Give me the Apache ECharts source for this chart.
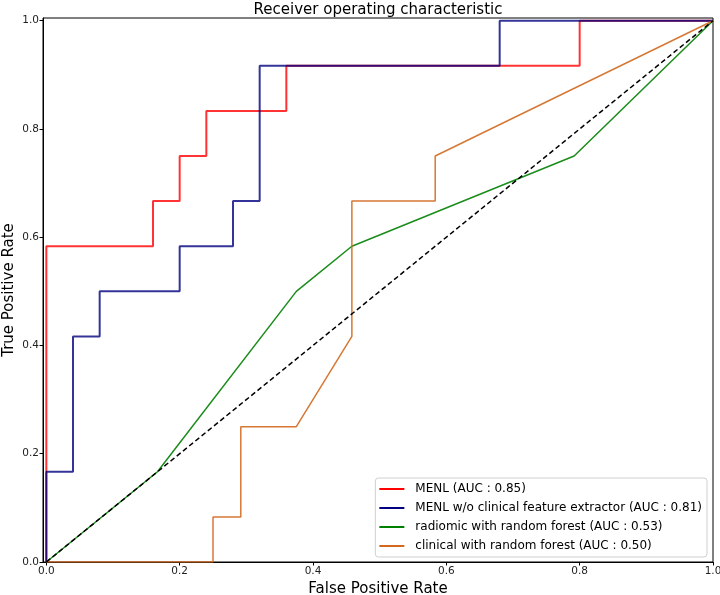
<!DOCTYPE html>
<html>
<head>
<meta charset="utf-8">
<script src="https://cdn.jsdelivr.net/npm/echarts@6/dist/echarts.min.js"></script>
<style>
  html, body { margin: 0; padding: 0; background: #fff; }
  #chart { width: 720px; height: 595px; }
</style>
</head>
<body>
<div id="chart"></div>
<script>
// ROC 曲线数据 (fpr / tpr)
const menlFpr = [0, 0, 0.16, 0.16, 0.2, 0.2, 0.24, 0.24, 0.36, 0.36, 0.8, 0.8, 1];
const menlTpr = [0, 0.5833, 0.5833, 0.6667, 0.6667, 0.75, 0.75, 0.8333, 0.8333, 0.9167, 0.9167, 1, 1];

const woFpr = [0, 0, 0.04, 0.04, 0.08, 0.08, 0.2, 0.2, 0.28, 0.28, 0.32, 0.32, 0.68, 0.68, 1];
const woTpr = [0, 0.1667, 0.1667, 0.4167, 0.4167, 0.5, 0.5, 0.5833, 0.5833, 0.6667, 0.6667, 0.9167, 0.9167, 1, 1];

const radFpr = [0, 0.1667, 0.375, 0.4583, 0.7917, 1];
const radTpr = [0, 0.1667, 0.5, 0.5833, 0.75, 1];

const cliFpr = [0, 0.25, 0.25, 0.2917, 0.2917, 0.375, 0.4583, 0.4583, 0.5833, 0.5833, 1];
const cliTpr = [0, 0, 0.0833, 0.0833, 0.25, 0.25, 0.4167, 0.6667, 0.6667, 0.75, 1];

const chanceFpr = [0, 1];
const chanceTpr = [0, 1];

const seriesNames = [
  'MENL (AUC : 0.85)',
  'MENL w/o clinical feature extractor (AUC : 0.81)',
  'radiomic with random forest (AUC : 0.53)',
  'clinical with random forest (AUC : 0.50)'
];
const tickValues = [0, 0.2, 0.4, 0.6, 0.8, 1.0];

const FONT = 'DejaVu Sans';

function pairs(xs, ys) {
  return xs.map((x, i) => [x, ys[i]]);
}

function lineSeries(name, xs, ys, color, width, opacity) {
  return {
    name: name,
    type: 'line',
    data: pairs(xs, ys),
    showSymbol: false,
    symbol: 'none',
    color: color,
    lineStyle: { color: color, width: width, opacity: opacity },
    itemStyle: { color: color },
    z: 3
  };
}

const chart = echarts.init(document.getElementById('chart'));

chart.setOption({
  animation: false,
  title: {
    text: 'Receiver operating characteristic',
    left: 373,
    textAlign: 'center',
    top: -2,
    textStyle: { fontFamily: FONT, fontSize: 15, fontWeight: 'normal', color: '#000' }
  },
  grid: {
    left: 43,
    right: 7,
    top: 18,
    bottom: 33,
    outerBoundsMode: 'none',
    containLabel: false,
    show: true,
    borderColor: '#000',
    borderWidth: 1,
    backgroundColor: 'transparent'
  },
  legend: {
    orient: 'vertical',
    right: 13,
    bottom: 38,
    data: seriesNames,
    icon: 'rect',
    itemWidth: 25,
    itemHeight: 2,
    itemGap: 7,
    padding: [5, 5, 5, 4],
    backgroundColor: '#fff',
    borderColor: '#d0d0d0',
    borderWidth: 1,
    borderRadius: 3,
    textStyle: { fontFamily: FONT, fontSize: 12, color: '#000', padding: [0, 0, 0, 6] }
  },
  xAxis: {
    type: 'value',
    min: -0.005,
    max: 1,
    name: 'False Positive Rate',
    nameLocation: 'middle',
    nameGap: 20,
    nameMoveOverlap: false,
    nameTextStyle: { fontFamily: FONT, fontSize: 15, color: '#000' },
    axisLine: { show: true, onZero: false, lineStyle: { color: '#000', width: 1 } },
    axisTick: { show: true, length: 3.5, customValues: tickValues, lineStyle: { color: '#000' } },
    axisLabel: {
      customValues: tickValues,
      fontFamily: FONT, fontSize: 10.5, color: '#222', margin: 4,
      formatter: v => v.toFixed(1)
    },
    splitLine: { show: false }
  },
  yAxis: {
    type: 'value',
    min: 0,
    max: 1.005,
    name: 'True Positive Rate',
    nameLocation: 'middle',
    nameGap: 26,
    nameMoveOverlap: false,
    nameTextStyle: { fontFamily: FONT, fontSize: 15, color: '#000' },
    axisLine: { show: true, onZero: false, lineStyle: { color: '#000', width: 1 } },
    axisTick: { show: true, length: 3.5, customValues: tickValues, lineStyle: { color: '#000' } },
    axisLabel: {
      customValues: tickValues,
      fontFamily: FONT, fontSize: 10.5, color: '#222', margin: 4,
      formatter: v => v.toFixed(1)
    },
    splitLine: { show: false }
  },
  series: [
    lineSeries(seriesNames[0], menlFpr, menlTpr, '#ff0000', 2, 0.8),
    lineSeries(seriesNames[1], woFpr, woTpr, '#000080', 2, 0.8),
    lineSeries(seriesNames[2], radFpr, radTpr, '#008000', 1.5, 0.9),
    lineSeries(seriesNames[3], cliFpr, cliTpr, '#d2691e', 1.5, 0.9),
    {
      name: 'chance',
      type: 'line',
      data: pairs(chanceFpr, chanceTpr),
      symbol: 'none',
      lineStyle: { color: '#000', width: 1.5, type: [5, 3] },
      z: 4
    }
  ]
});
</script>
</body>
</html>
